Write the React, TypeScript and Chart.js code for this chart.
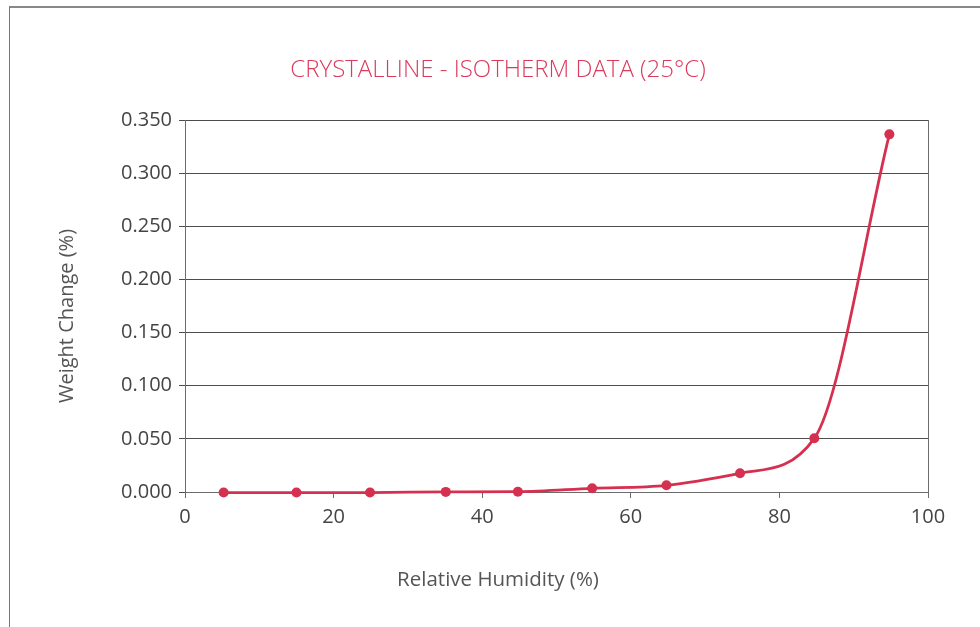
import { useEffect, useRef } from "react";
import { Chart, registerables } from "chart.js";

Chart.register(...registerables);

// Moisture sorption isotherm, 25 °C
const humidity = [5.2, 15.0, 24.9, 35.1, 44.8, 54.8, 64.8, 74.7, 84.7, 94.8];
const weightChange = [-0.0005, -0.0005, -0.0005, 0.0001, 0.0003, 0.0035, 0.0063, 0.0176, 0.0505, 0.3365];
const xTickValues = [0, 20, 40, 60, 80, 100];
const yTickValues = [0, 0.05, 0.1, 0.15, 0.2, 0.25, 0.3, 0.35];

const chartTitle = "CRYSTALLINE - ISOTHERM DATA (25°C)";
const xAxisTitle = "Relative Humidity (%)";
const yAxisTitle = "Weight Change (%)";

const ACCENT = "#d5304f";
const TITLE_RED = "#db3a5b";
const GRID = "#4d4d4d";
const AXIS = "#6b6b6b";
const TEXT = "#444444";
const FONT = "'Open Sans', 'Noto Sans', sans-serif";

// Plot frame edge and the three text titles
const framePlugin = {
  id: "frameAndTitles",
  beforeDatasetsDraw(chart: any) {
    const { ctx, chartArea: a } = chart;
    ctx.save();
    ctx.strokeStyle = AXIS;
    ctx.lineWidth = 1;
    ctx.beginPath();
    ctx.moveTo(Math.round(a.right) + 0.5, a.top);
    ctx.lineTo(Math.round(a.right) + 0.5, a.bottom + 6);
    ctx.stroke();
    ctx.restore();
  },
  afterDraw(chart: any) {
    const { ctx } = chart;
    ctx.save();
    ctx.textAlign = "center";
    ctx.textBaseline = "middle";

    ctx.fillStyle = TITLE_RED;
    ctx.font = `300 24px ${FONT}`;
    ctx.fillText(chartTitle, 498, 70);

    ctx.fillStyle = "#555555";
    ctx.font = `20.5px ${FONT}`;
    ctx.fillText(xAxisTitle, 498, 580);

    ctx.font = `20px ${FONT}`;
    ctx.translate(67, 316);
    ctx.rotate(-Math.PI / 2);
    ctx.fillText(yAxisTitle, 0, 0);
    ctx.restore();
  },
};

export default function App() {
  const canvasRef = useRef<HTMLCanvasElement | null>(null);

  useEffect(() => {
    if (!canvasRef.current) return;
    const chart = new Chart(canvasRef.current, {
      type: "line",
      data: {
        datasets: [
          {
            data: humidity.map((h, i) => ({ x: h, y: weightChange[i] })),
            borderColor: ACCENT,
            backgroundColor: ACCENT,
            borderWidth: 2.8,
            pointRadius: 5,
            pointHoverRadius: 5,
            pointBorderWidth: 0,
            cubicInterpolationMode: "monotone",
            clip: false,
            fill: false,
          },
        ],
      },
      options: {
        animation: false,
        responsive: false,
        devicePixelRatio: 1,
        layout: { padding: { left: 20, right: 52, top: 120, bottom: 100 } },
        plugins: {
          legend: { display: false },
          title: { display: false },
          tooltip: { enabled: false },
        },
        scales: {
          x: {
            type: "linear",
            min: 0,
            max: 100,
            afterBuildTicks: (scale: any) => {
              scale.ticks = xTickValues.map((v) => ({ value: v }));
            },
            afterFit: (scale: any) => {
              scale.height = 35;
            },
            grid: {
              drawOnChartArea: false,
              drawTicks: true,
              tickLength: 6,
              color: AXIS,
            },
            border: { display: true, color: AXIS, width: 1 },
            ticks: {
              color: TEXT,
              padding: 7,
              font: { family: FONT, size: 20 },
              maxRotation: 0,
            },
          },
          y: {
            type: "linear",
            min: 0,
            max: 0.35,
            afterBuildTicks: (scale: any) => {
              scale.ticks = yTickValues.map((v) => ({ value: v }));
            },
            afterFit: (scale: any) => {
              scale.width = 165;
            },
            grid: {
              drawOnChartArea: true,
              drawTicks: true,
              tickLength: 6,
              color: GRID,
              lineWidth: 1,
            },
            border: { display: true, color: AXIS, width: 1 },
            ticks: {
              color: TEXT,
              padding: 7,
              font: { family: FONT, size: 20 },
              callback: (v: any) => Number(v).toFixed(3),
            },
          },
        },
      },
      plugins: [framePlugin],
    });
    return () => chart.destroy();
  }, []);

  return (
    <div>
      <div
        style={{
          position: "fixed",
          left: 9,
          top: 6,
          width: 1200,
          height: 800,
          borderTop: "2px solid #888888",
          borderLeft: "1px solid #777777",
          boxSizing: "border-box",
        }}
      />
      <canvas
        ref={canvasRef}
        width={980}
        height={627}
        style={{ position: "fixed", left: 0, top: 0 }}
      />
    </div>
  );
}
